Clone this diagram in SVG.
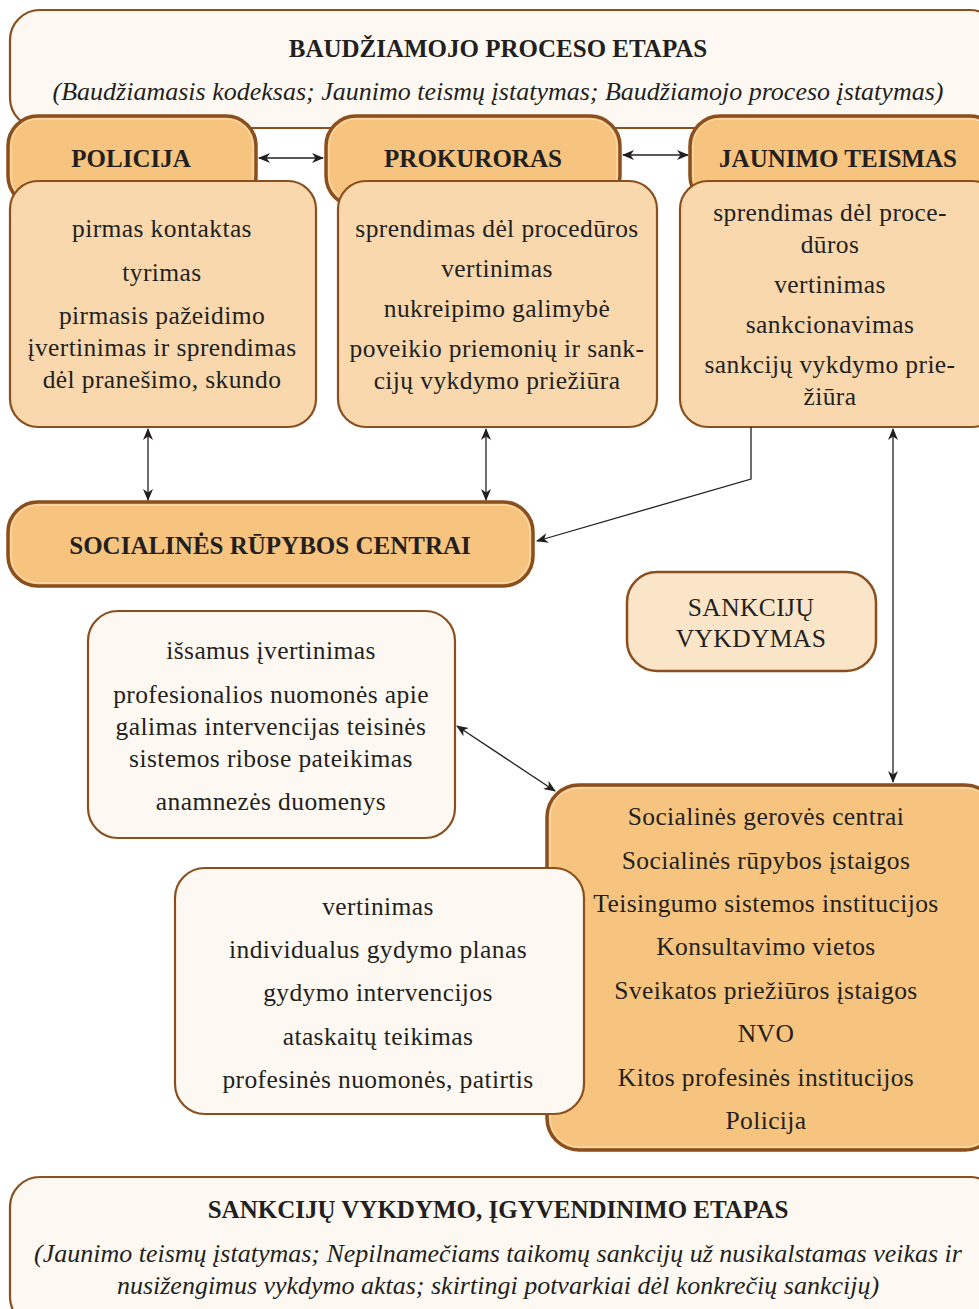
<svg xmlns="http://www.w3.org/2000/svg" width="979" height="1309" viewBox="0 0 979 1309">
<defs>
<style>
.t{font-family:"Liberation Serif","Times New Roman",serif;font-size:25.5px;letter-spacing:0.4px;fill:#231f20;text-anchor:middle}
.b{font-weight:bold;font-size:25px;letter-spacing:0}
.i{font-style:italic;font-size:26px;letter-spacing:0}
.light{fill:#fdf9f2;stroke:#8b4f1e;stroke-width:2.2}
.body{fill:#f9d8ae;stroke:#8b4f1e;stroke-width:2.2}
.sv{fill:#fbe5c8;stroke:#8b4f1e;stroke-width:2.5}
.hd{fill:#f7c47f;stroke:#8b4f1e;stroke-width:3.5}
.hdi{fill:none;stroke:#fbe0bc;stroke-width:1}
.c{fill:none;stroke:#231f20;stroke-width:1.3}
</style>
<marker id="ah" viewBox="0 0 12 10" refX="11" refY="5" markerWidth="12" markerHeight="10" markerUnits="userSpaceOnUse" orient="auto-start-reverse">
<path d="M0,0 L12,5 L0,10 L3.5,5 z" fill="#231f20"/>
</marker>
</defs>

<g id="baudziamojo-etapas">
<rect class="light" x="10" y="10" width="990" height="118" rx="30"/>
<text class="t b" x="498" y="57">BAUDŽIAMOJO PROCESO ETAPAS</text>
<text class="t i" x="498" y="100">(Baudžiamasis kodeksas; Jaunimo teismų įstatymas; Baudžiamojo proceso įstatymas)</text>
</g>

<g id="policija">
<rect class="hd" x="8" y="116" width="248" height="90" rx="30"/>
<rect class="hdi" x="11" y="119" width="242" height="84" rx="27"/>
<text class="t b" x="131" y="167">POLICIJA</text>
<rect class="body" x="10" y="181" width="306" height="246" rx="28"/>
<text class="t" x="162" y="237">pirmas kontaktas</text>
<text class="t" x="162" y="281">tyrimas</text>
<text class="t" x="162" y="324">pirmasis pažeidimo</text>
<text class="t" x="162" y="356">įvertinimas ir sprendimas</text>
<text class="t" x="162" y="388">dėl pranešimo, skundo</text>
</g>

<g id="prokuroras">
<rect class="hd" x="326" y="116" width="294" height="90" rx="30"/>
<rect class="hdi" x="329" y="119" width="288" height="84" rx="27"/>
<text class="t b" x="473" y="167">PROKURORAS</text>
<rect class="body" x="338" y="181" width="319" height="246" rx="28"/>
<text class="t" x="497" y="237">sprendimas dėl procedūros</text>
<text class="t" x="497" y="277">vertinimas</text>
<text class="t" x="497" y="317">nukreipimo galimybė</text>
<text class="t" x="497" y="357">poveikio priemonių ir sank-</text>
<text class="t" x="497" y="389">cijų vykdymo priežiūra</text>
</g>

<g id="jaunimo-teismas">
<rect class="hd" x="690" y="116" width="310" height="90" rx="30"/>
<rect class="hdi" x="693" y="119" width="304" height="84" rx="27"/>
<text class="t b" x="838" y="167">JAUNIMO TEISMAS</text>
<rect class="body" x="680" y="181" width="320" height="246" rx="28"/>
<text class="t" x="830" y="221">sprendimas dėl proce-</text>
<text class="t" x="830" y="253">dūros</text>
<text class="t" x="830" y="293">vertinimas</text>
<text class="t" x="830" y="333">sankcionavimas</text>
<text class="t" x="830" y="373">sankcijų vykdymo prie-</text>
<text class="t" x="830" y="405">žiūra</text>
</g>

<g id="socialines-rupybos-centrai">
<rect class="hd" x="8" y="502" width="525" height="84" rx="30"/>
<rect class="hdi" x="11" y="505" width="519" height="78" rx="27"/>
<text class="t b" x="270" y="554">SOCIALINĖS RŪPYBOS CENTRAI</text>
</g>

<g id="sankciju-vykdymas">
<rect class="sv" x="627" y="572" width="249" height="99" rx="30"/>
<text class="t" x="751" y="616">SANKCIJŲ</text>
<text class="t" x="751" y="647">VYKDYMAS</text>
</g>

<g id="issamus-ivertinimas">
<rect class="light" x="88" y="611" width="367" height="227" rx="30"/>
<text class="t" x="271" y="659">išsamus įvertinimas</text>
<text class="t" x="271" y="703">profesionalios nuomonės apie</text>
<text class="t" x="271" y="735">galimas intervencijas teisinės</text>
<text class="t" x="271" y="767">sistemos ribose pateikimas</text>
<text class="t" x="271" y="810">anamnezės duomenys</text>
</g>

<g id="institucijos">
<rect class="hd" x="547" y="785" width="450" height="365" rx="32"/>
<rect class="hdi" x="550" y="788" width="444" height="359" rx="29"/>
<text class="t" x="766" y="825">Socialinės gerovės centrai</text>
<text class="t" x="766" y="869">Socialinės rūpybos įstaigos</text>
<text class="t" x="766" y="912">Teisingumo sistemos institucijos</text>
<text class="t" x="766" y="955">Konsultavimo vietos</text>
<text class="t" x="766" y="999">Sveikatos priežiūros įstaigos</text>
<text class="t" x="766" y="1042">NVO</text>
<text class="t" x="766" y="1086">Kitos profesinės institucijos</text>
<text class="t" x="766" y="1129">Policija</text>
</g>

<g id="vertinimas-gydymas">
<rect class="light" x="175" y="868" width="409" height="246" rx="30"/>
<text class="t" x="378" y="915">vertinimas</text>
<text class="t" x="378" y="958">individualus gydymo planas</text>
<text class="t" x="378" y="1001">gydymo intervencijos</text>
<text class="t" x="378" y="1045">ataskaitų teikimas</text>
<text class="t" x="378" y="1088">profesinės nuomonės, patirtis</text>
</g>

<g id="sankciju-etapas">
<rect class="light" x="10" y="1177" width="990" height="150" rx="30"/>
<text class="t b" x="498" y="1218">SANKCIJŲ VYKDYMO, ĮGYVENDINIMO ETAPAS</text>
<text class="t i" x="498" y="1262">(Jaunimo teismų įstatymas; Nepilnamečiams taikomų sankcijų už nusikalstamas veikas ir</text>
<text class="t i" x="498" y="1294">nusižengimus vykdymo aktas; skirtingi potvarkiai dėl konkrečių sankcijų)</text>
</g>

<g id="connectors">
<line class="c" x1="259" y1="158" x2="323" y2="158" marker-start="url(#ah)" marker-end="url(#ah)"/>
<line class="c" x1="623" y1="155" x2="688" y2="155" marker-start="url(#ah)" marker-end="url(#ah)"/>
<line class="c" x1="148" y1="429" x2="148" y2="500" marker-start="url(#ah)" marker-end="url(#ah)"/>
<line class="c" x1="486" y1="429" x2="486" y2="500" marker-start="url(#ah)" marker-end="url(#ah)"/>
<polyline class="c" points="751,427 751,479 537,541" marker-end="url(#ah)"/>
<line class="c" x1="893" y1="429" x2="893" y2="782" marker-start="url(#ah)" marker-end="url(#ah)"/>
<line class="c" x1="457" y1="726" x2="555" y2="791" marker-start="url(#ah)" marker-end="url(#ah)"/>
</g>
</svg>
